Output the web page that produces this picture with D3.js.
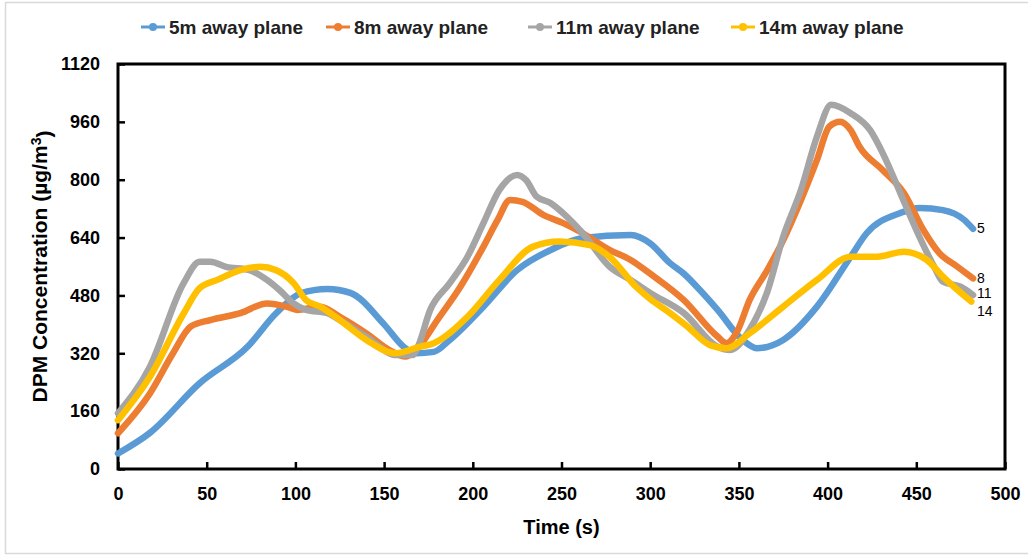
<!DOCTYPE html>
<html>
<head>
<meta charset="utf-8">
<script src="https://cdn.jsdelivr.net/npm/d3@7"></script>
<style>
  html, body { margin: 0; padding: 0; background: #fff; }
  svg { display: block; }
  text { font-family: "Liberation Sans", Arial, sans-serif; }
</style>
</head>
<body>
<svg id="chart" width="1028" height="557"></svg>
<script>
// Time samples (s) and DPM concentration (µg/m³) for each measurement plane
const t5  = [0, 18, 46, 73, 89, 103, 118, 131, 150, 161, 168, 178, 187, 206, 225, 244, 262, 289, 300, 311, 319, 328, 338, 352, 360, 375, 394, 413, 422, 441, 452, 465, 477, 482];
const c5  = [43, 100, 237, 338, 430, 486, 498, 487, 400, 338, 320, 324, 357, 449, 550, 606, 639, 647, 624, 570, 540, 495, 440, 357, 334, 357, 449, 587, 652, 708, 722, 716, 689, 664];

const t8  = [0, 18, 31, 41, 52, 69, 84, 95, 101, 114, 125, 140, 153, 162, 168, 180, 193, 206, 214, 221, 228, 240, 251, 262, 277, 289, 300, 319, 338, 343, 349, 356, 366, 375, 385, 394, 401, 407, 413, 418, 431, 443, 454, 463, 473, 482];
const c8  = [99, 209, 320, 394, 412, 431, 458, 449, 440, 449, 421, 375, 329, 311, 329, 412, 504, 615, 689, 744, 739, 702, 680, 652, 606, 578, 540, 467, 366, 348, 380, 467, 550, 633, 744, 855, 947, 960, 937, 891, 827, 763, 661, 597, 560, 527];

const t11 = [0, 18, 37, 46, 52, 61, 74, 84, 91, 99, 106, 118, 125, 140, 157, 166, 169, 176, 187, 197, 206, 215, 225, 230, 236, 244, 251, 262, 277, 289, 300, 319, 338, 345, 356, 366, 375, 385, 394, 402, 413, 424, 432, 441, 450, 460, 465, 475, 482];
const c11 = [154, 283, 514, 573, 573, 559, 550, 523, 495, 458, 440, 431, 412, 366, 315, 315, 338, 440, 514, 587, 680, 772, 813, 799, 753, 735, 707, 652, 560, 523, 487, 431, 338, 329, 385, 490, 643, 772, 919, 1007, 984, 937, 864, 763, 661, 560, 518, 504, 481];

const t14 = [0, 18, 37, 46, 56, 69, 80, 89, 99, 106, 114, 125, 140, 156, 170, 178, 197, 215, 234, 249, 266, 277, 292, 300, 311, 320, 334, 343, 356, 375, 394, 413, 428, 443, 456, 465, 481];
const c14 = [135, 255, 430, 500, 523, 550, 559, 550, 514, 467, 449, 412, 357, 320, 338, 348, 421, 523, 615, 629, 619, 587, 504, 470, 432, 398, 342, 334, 375, 449, 523, 587, 587, 601, 578, 532, 463];

const seriesNames = ["5m away plane", "8m away plane", "11m away plane", "14m away plane"];
const endLabels   = ["5", "8", "11", "14"];
const seriesColors = ["#5B9BD5", "#ED7D31", "#A5A5A5", "#FFC000"];

const xTicks = [0, 50, 100, 150, 200, 250, 300, 350, 400, 450, 500];
const yTicks = [0, 160, 320, 480, 640, 800, 960, 1120];

const series = [[t5, c5], [t8, c8], [t11, c11], [t14, c14]].map(([t, c], i) => ({
  name: seriesNames[i],
  label: endLabels[i],
  color: seriesColors[i],
  points: t.map((d, j) => ({ t: d, v: c[j] }))
}));

const svg = d3.select("#chart");

// light outer frame
svg.append("rect")
  .attr("x", 5.5).attr("y", 2.5).attr("width", 1030).attr("height", 551)
  .attr("fill", "none").attr("stroke", "#d9d9d9").attr("stroke-width", 1.5);

const plot = { left: 118, right: 1005, top: 64, bottom: 469 };
const x = d3.scaleLinear().domain([0, 500]).range([plot.left, plot.right]);
const y = d3.scaleLinear().domain([0, 1120]).range([plot.bottom, plot.top]);

// axes with inward ticks
const xAxis = svg.append("g")
  .attr("transform", `translate(0,${plot.bottom})`)
  .call(d3.axisBottom(x).tickValues(xTicks).tickSize(-7).tickPadding(17).tickFormat(d3.format("d")));
const yAxis = svg.append("g")
  .attr("transform", `translate(${plot.left},0)`)
  .call(d3.axisLeft(y).tickValues(yTicks).tickSize(-7).tickPadding(18).tickFormat(d3.format("d")));

[xAxis, yAxis].forEach(g => {
  g.select(".domain").remove();
  g.selectAll(".tick line").attr("stroke", "#000").attr("stroke-width", 2.5);
  g.selectAll(".tick text")
    .attr("fill", "#000")
    .style("font-family", '"Liberation Sans", Arial, sans-serif')
    .style("font-size", "18px")
    .style("font-weight", "bold");
});
xAxis.selectAll(".tick line").attr("y1", 0);
xAxis.selectAll(".tick text").attr("dy", "0.35em").attr("y", 25);

// plot frame
svg.append("rect")
  .attr("x", plot.left).attr("y", plot.top)
  .attr("width", plot.right - plot.left).attr("height", plot.bottom - plot.top)
  .attr("fill", "none").attr("stroke", "#000").attr("stroke-width", 3);

// series lines
const line = d3.line()
  .x(d => x(d.t))
  .y(d => y(d.v))
  .curve(d3.curveMonotoneX);

svg.append("g").selectAll("path")
  .data(series)
  .join("path")
  .attr("d", d => line(d.points))
  .attr("fill", "none")
  .attr("stroke", d => d.color)
  .attr("stroke-width", 6.5)
  .attr("stroke-linecap", "round")
  .attr("stroke-linejoin", "round");

// end-of-line labels
const labelY = [228, 278, 293, 311];
svg.append("g").selectAll("text")
  .data(series)
  .join("text")
  .attr("x", 977)
  .attr("y", (d, i) => labelY[i])
  .attr("dy", "0.35em")
  .style("font-size", "14px")
  .attr("fill", "#000")
  .text(d => d.label);

// axis titles
svg.append("text")
  .attr("x", (plot.left + plot.right) / 2)
  .attr("y", 527)
  .attr("dy", "0.35em")
  .attr("text-anchor", "middle")
  .style("font-size", "20px")
  .style("font-weight", "bold")
  .text("Time (s)");

const yTitle = svg.append("text")
  .attr("transform", `translate(40,${(plot.top + plot.bottom) / 2}) rotate(-90)`)
  .attr("dy", "0.35em")
  .attr("text-anchor", "middle")
  .style("font-size", "21px")
  .style("font-weight", "bold");
yTitle.append("tspan").text("DPM Concentration (µg/m");
yTitle.append("tspan").attr("dy", "-0.45em").style("font-size", "14px").text("3");
yTitle.append("tspan").attr("dy", "0.45em").text(")");

// legend
const legendX = [141, 326, 528, 731];
const legend = svg.append("g").selectAll("g")
  .data(series)
  .join("g")
  .attr("transform", (d, i) => `translate(${legendX[i]},27)`);
legend.append("line")
  .attr("x1", 0).attr("x2", 24)
  .attr("stroke", d => d.color).attr("stroke-width", 3);
legend.append("circle")
  .attr("cx", 12).attr("r", 4)
  .attr("fill", d => d.color);
legend.append("text")
  .attr("x", 28)
  .attr("dy", "0.35em")
  .style("font-size", "19px")
  .style("font-weight", "bold")
  .attr("fill", "#222")
  .text(d => d.name);
</script>
</body>
</html>
